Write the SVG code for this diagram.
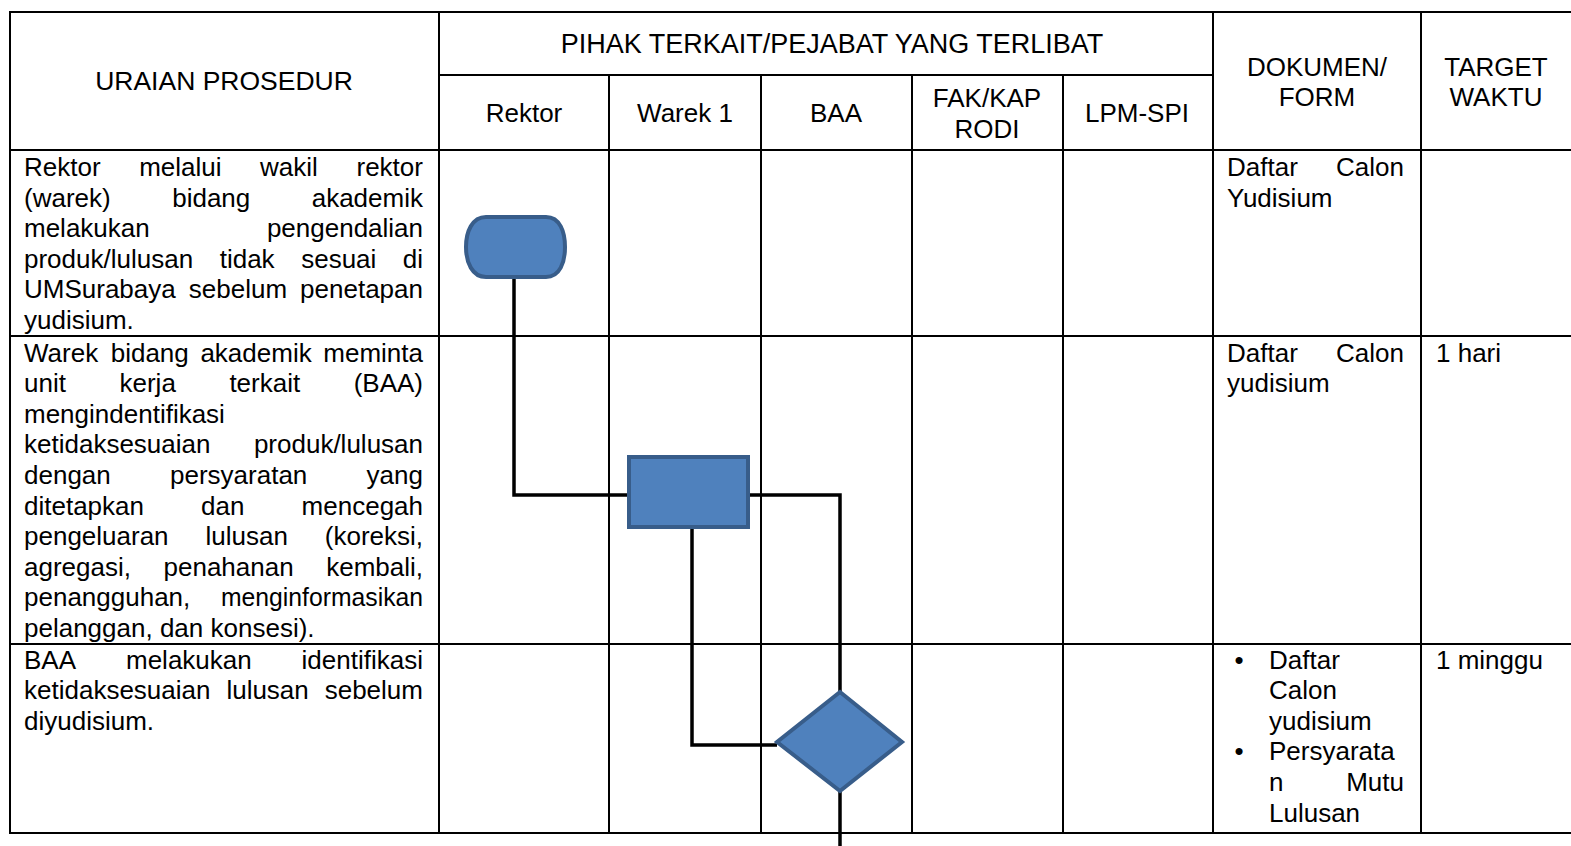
<svg xmlns="http://www.w3.org/2000/svg" width="1571" height="846" viewBox="0 0 1571 846">
<style>
text{font-family:"Liberation Sans",Arial,sans-serif;font-size:26px;fill:#000}
.c{text-anchor:middle}
.grid line{stroke:#000;stroke-width:2}
.shape{fill:#4f81bd;stroke:#385d8a;stroke-width:4}
.conn{fill:none;stroke:#000;stroke-width:3.5}
</style>
<rect width="1571" height="846" fill="#fff"/>
<g id="table" class="grid">
<line x1="9" y1="12" x2="1571" y2="12"/>
<line x1="439" y1="75" x2="1213" y2="75"/>
<line x1="9" y1="150" x2="1571" y2="150"/>
<line x1="9" y1="336" x2="1571" y2="336"/>
<line x1="9" y1="644" x2="1571" y2="644"/>
<line x1="9" y1="833" x2="1571" y2="833"/>
<line x1="10" y1="11" x2="10" y2="834"/>
<line x1="439" y1="11" x2="439" y2="834"/>
<line x1="1213" y1="11" x2="1213" y2="834"/>
<line x1="1421" y1="11" x2="1421" y2="834"/>
<line x1="609" y1="75" x2="609" y2="834"/>
<line x1="761" y1="75" x2="761" y2="834"/>
<line x1="912" y1="75" x2="912" y2="834"/>
<line x1="1063" y1="75" x2="1063" y2="834"/>
</g>
<g id="header">
<text class="c" x="224" y="90" style="font-size:26.5px">URAIAN PROSEDUR</text>
<text class="c" x="832" y="53" style="font-size:27px">PIHAK TERKAIT/PEJABAT YANG TERLIBAT</text>
<text class="c" x="524" y="122">Rektor</text>
<text class="c" x="685" y="122">Warek 1</text>
<text class="c" x="836" y="122">BAA</text>
<text class="c" x="987" y="107">FAK/KAP</text>
<text class="c" x="987" y="138">RODI</text>
<text class="c" x="1137" y="122">LPM-SPI</text>
<text class="c" x="1317" y="76">DOKUMEN/</text>
<text class="c" x="1317" y="106">FORM</text>
<text class="c" x="1496" y="76">TARGET</text>
<text class="c" x="1496" y="106">WAKTU</text>
</g>
<g id="row1-text">
<text y="176"><tspan x="24">Rektor</tspan><tspan x="139.2">melalui</tspan><tspan x="260.1">wakil</tspan><tspan x="356.5">rektor</tspan></text>
<text y="206.6"><tspan x="24">(warek)</tspan><tspan x="172.2">bidang</tspan><tspan x="311.7">akademik</tspan></text>
<text y="237.2"><tspan x="24">melakukan</tspan><tspan x="266.9">pengendalian</tspan></text>
<text y="267.8"><tspan x="24">produk/lulusan</tspan><tspan x="219.7">tidak</tspan><tspan x="301.2">sesuai</tspan><tspan x="402.8">di</tspan></text>
<text y="298.4"><tspan x="24">UMSurabaya</tspan><tspan x="188.8">sebelum</tspan><tspan x="300.1">penetapan</tspan></text>
<text x="24" y="329">yudisium.</text>
<text y="176"><tspan x="1227">Daftar</tspan><tspan x="1336.1">Calon</tspan></text>
<text x="1227" y="206.6">Yudisium</text>
</g>
<g id="row2-text">
<text y="361.5"><tspan x="24">Warek</tspan><tspan x="110.7">bidang</tspan><tspan x="200.4">akademik</tspan><tspan x="323.3">meminta</tspan></text>
<text y="392.1"><tspan x="24">unit</tspan><tspan x="119.5">kerja</tspan><tspan x="229.4">terkait</tspan><tspan x="353.7">(BAA)</tspan></text>
<text x="24" y="422.7">mengindentifikasi</text>
<text y="453.3"><tspan x="24">ketidaksesuaian</tspan><tspan x="253.9">produk/lulusan</tspan></text>
<text y="483.9"><tspan x="24">dengan</tspan><tspan x="170">persyaratan</tspan><tspan x="366.6">yang</tspan></text>
<text y="514.5"><tspan x="24">ditetapkan</tspan><tspan x="201.1">dan</tspan><tspan x="301.6">mencegah</tspan></text>
<text y="545.1"><tspan x="24">pengeluaran</tspan><tspan x="205.5">lulusan</tspan><tspan x="324.8">(koreksi,</tspan></text>
<text y="575.7"><tspan x="24">agregasi,</tspan><tspan x="163.5">penahanan</tspan><tspan x="326.2">kembali,</tspan></text>
<text x="24" y="606.3">penangguhan,</text>
<text x="221" y="606.3" textLength="202" lengthAdjust="spacingAndGlyphs">menginformasikan</text>
<text x="24" y="636.9">pelanggan, dan konsesi).</text>
<text y="361.5"><tspan x="1227">Daftar</tspan><tspan x="1336.1">Calon</tspan></text>
<text x="1227" y="392.1">yudisium</text>
<text x="1436" y="361.5">1 hari</text>
</g>
<g id="row3-text">
<text y="668.5"><tspan x="24">BAA</tspan><tspan x="126">melakukan</tspan><tspan x="301.6">identifikasi</tspan></text>
<text y="699.1"><tspan x="24">ketidaksesuaian</tspan><tspan x="226.4">lulusan</tspan><tspan x="324.7">sebelum</tspan></text>
<text x="24" y="729.7">diyudisium.</text>
<text class="c" x="1239" y="668.5">•</text>
<text x="1269" y="668.5">Daftar</text>
<text x="1269" y="699.1">Calon</text>
<text x="1269" y="729.7">yudisium</text>
<text class="c" x="1239" y="760.3">•</text>
<text x="1269" y="760.3">Persyarata</text>
<text y="790.9"><tspan x="1269">n</tspan><tspan x="1346.2">Mutu</tspan></text>
<text x="1269" y="821.5">Lulusan</text>
<text x="1436" y="668.5">1 minggu</text>
</g>
<g id="connectors" class="conn">
<polyline points="514,278 514,495 627,495"/>
<polyline points="750,495 840,495 840,691"/>
<polyline points="692,529 692,745 777,745"/>
<polyline points="840,792 840,846"/>
</g>
<g id="start">
<path class="shape" d="M486,217 H546 C560,217 565,232 565,247 C565,262 560,277 546,277 H486 C472,277 466,262 466,247 C466,232 472,217 486,217 Z"/>
</g>
<g id="process">
<rect class="shape" x="629" y="457" width="119" height="70"/>
</g>
<g id="decision">
<polygon class="shape" points="840,692 902,742 840,791 777,742"/>
</g>
</svg>
